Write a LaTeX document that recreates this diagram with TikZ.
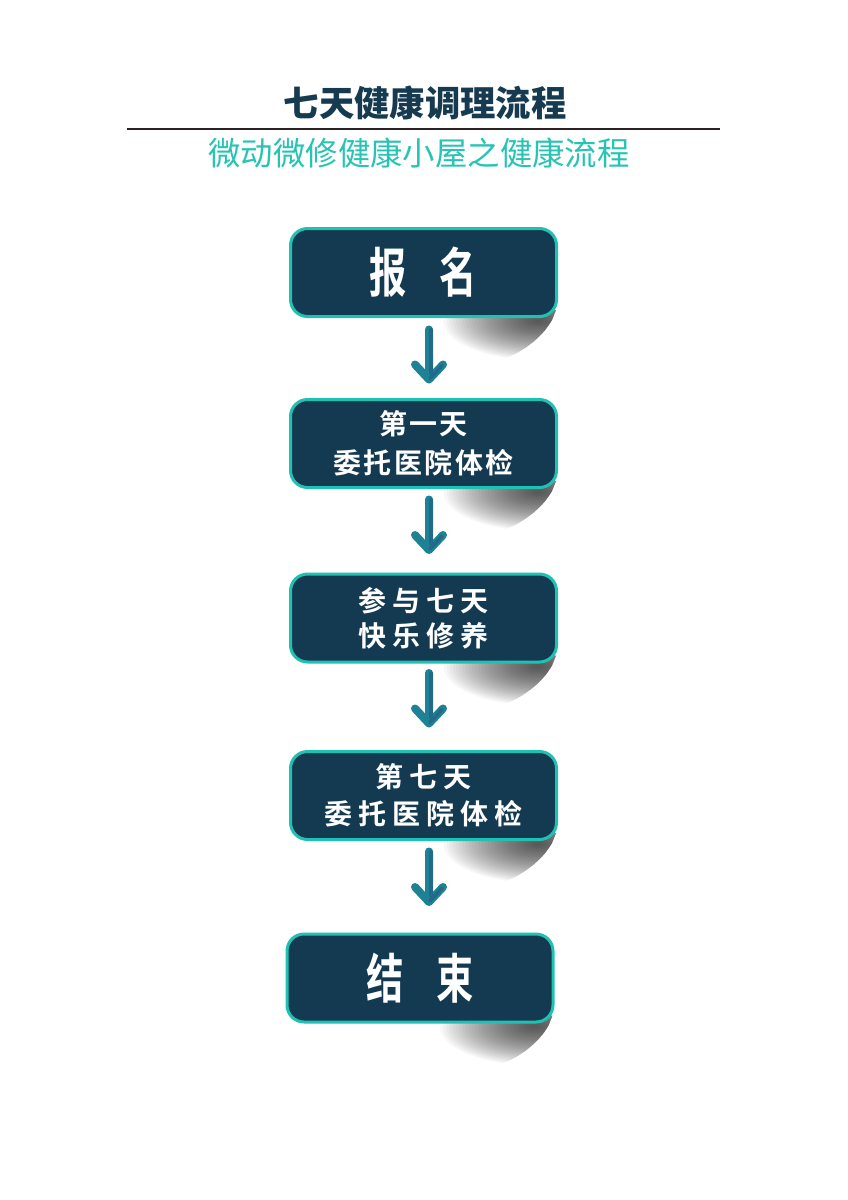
\documentclass[tikz,border=0pt]{standalone}
\usepackage{fontspec}
\newfontfamily\cjk{Noto Sans CJK SC}[BoldFont={Noto Sans CJK SC Bold}]
\newfontfamily\cjkblack{Noto Sans CJK SC Black}
\usetikzlibrary{calc}
\newdimen\px \px=0.75pt
\newcommand\gapA{\kern2.5\px}
\newcommand\gapB{\kern6\px}
\definecolor{navy}{HTML}{133A51}
\definecolor{rim}{HTML}{1FC2B2}
\definecolor{subteal}{HTML}{27C4B4}
\definecolor{titlec}{HTML}{163A4F}
\definecolor{rulec}{HTML}{2A2222}
\definecolor{arrc}{HTML}{1E8295}
\definecolor{arrd}{HTML}{22698A}
\pgfdeclarelayer{bg}
\pgfsetlayers{bg,main}
\tikzset{
  box/.style={rectangle, rounded corners=17\px, fill=navy, draw=rim, line width=3\px,
    minimum width=266\px, minimum height=88\px, text=white,
    align=center, inner sep=0pt},
  bigtxt/.style={font=\cjk\bfseries\fontsize{40pt}{40pt}\selectfont},
  arr/.style={draw=arrc, line width=8\px, line cap=round, line join=round},
  arrdark/.style={draw=arrd, line width=3.5\px, line cap=round, line join=round},
  curlstep/.style={fill=black, opacity=0.03},
}
\begin{document}
\begin{tikzpicture}[x=0.75pt,y=-0.75pt]
\begin{pgfonlayer}{bg}
\fill[white] (0,0) rectangle (848,1200);
\end{pgfonlayer}
\useasboundingbox (0,0) rectangle (848,1200);

% title
\node[text=titlec, inner sep=0pt, font=\cjkblack\fontsize{26.5pt}{27pt}\selectfont] (title) at (425,103) {七天健康调理流程};
\coordinate (rl) at (127,129);
\coordinate (rr) at (720,129);
\draw[rulec, line width=2.5\px] (rl) -- (rr);
\node[text=subteal, inner sep=0pt, font=\cjk\fontsize{24.3pt}{25pt}\selectfont] (sub) at (419,153) {微动微修健康小屋之健康流程};

% boxes
\node[box, bigtxt] (b1) at (423.5,272.5) {\scalebox{0.7}[1]{报\kern47\px 名}};
\node[box, font=\cjk\bfseries\fontsize{21pt}{29.25pt}\selectfont] (b2) at (423.5,443.5)
  {第\gapA 一\gapA 天\\委\gapA 托\gapA 医\gapA 院\gapA 体\gapA 检};
\node[box, font=\cjk\bfseries\fontsize{21pt}{26.6pt}\selectfont] (b3) at (423.5,618)
  {参\gapB 与\gapB 七\gapB 天\\快\gapB 乐\gapB 修\gapB 养};
\node[box, font=\cjk\bfseries\fontsize{21pt}{27.75pt}\selectfont] (b4) at (423.5,795.5)
  {第\gapB 七\gapB 天\\委\gapB 托\gapB 医\gapB 院\gapB 体\gapB 检};
\node[box, bigtxt] (b5) at (420,978) {\scalebox{0.7}[1]{结\kern47\px 束}};

% shadows (page-curl look, built from stacked translucent ellipses)
\begin{pgfonlayer}{bg}
\foreach \b in {b1,b2,b3,b4,b5}{
  \begin{scope}[shift={(\b.south east)}]
    \clip (-130,-8) -- (-130,70) -- (-60,70) -- (-52,40)
          .. controls (-36,34) and (-16,20) .. (-6,2) -- (-2,-8) -- cycle;
    \foreach \i in {1,...,30}{
      \fill[curlstep] (-20,3) ellipse [x radius={3.15*\i}, y radius={1.3*\i}];
    }
  \end{scope}
}
\end{pgfonlayer}

% arrows
\coordinate (s1) at ($(b1.south)+(5.5,11.5)$);
\coordinate (t1) at ($(b2.north)+(5.5,-18.5)$);
\coordinate (s2) at ($(b2.south)+(5.5,10.5)$);
\coordinate (t2) at ($(b3.north)+(5.5,-22.5)$);
\coordinate (s3) at ($(b3.south)+(5.5,9.5)$);
\coordinate (t3) at ($(b4.north)+(5.5,-26.5)$);
\coordinate (s4) at ($(b4.south)+(5.5,10.5)$);
\coordinate (t4) at ($(b5.north)+(9,-30.5)$);
\foreach \s/\t in {s1/t1,s2/t2,s3/t3,s4/t4}{
  \draw[arr] (\s) -- (\t) ++(-14,-15) -- (\t) -- ++(14,-15);
  \draw[arrdark] ($(\s)+(2,0)$) -- ($(\t)+(2,-6)$);
  \draw[arrdark] ($(\t)+(1,-1)$) -- ($(\t)+(13,-14)$);
}
\end{tikzpicture}
\end{document}
